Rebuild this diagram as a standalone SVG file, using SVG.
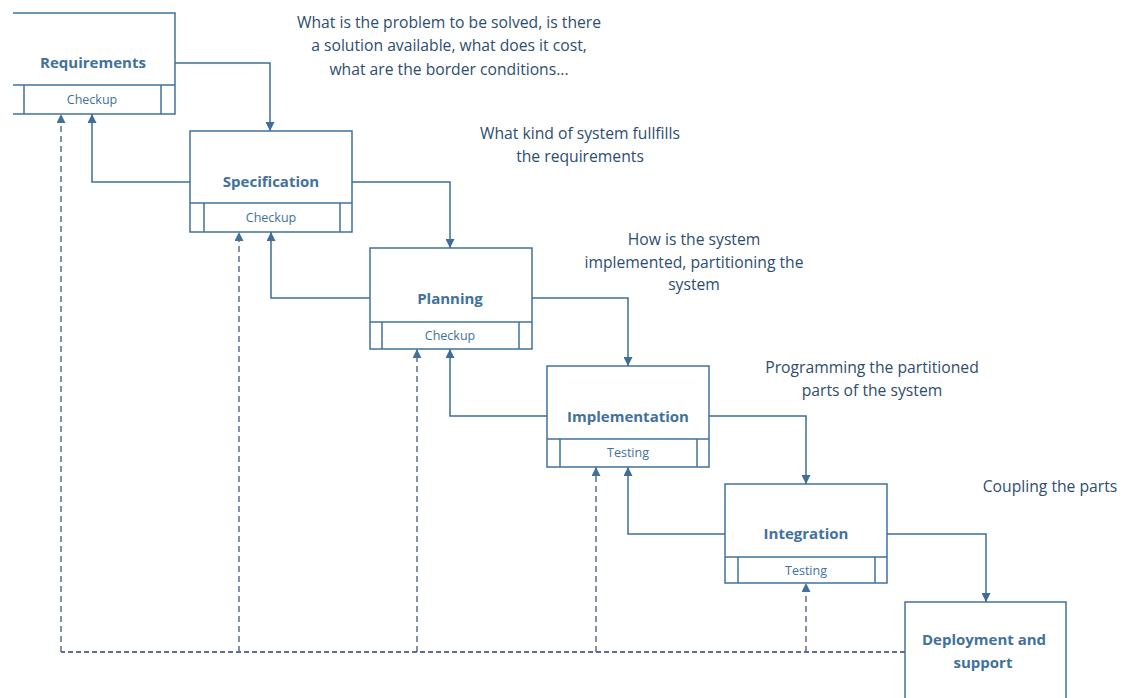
<svg xmlns="http://www.w3.org/2000/svg" width="1126" height="698" viewBox="0 0 1126 698">
  <style>
    .box { fill: #ffffff; stroke: #41719c; stroke-width: 1.5; }
    .ln { fill: none; stroke: #41719c; stroke-width: 1.5; }
    .flow { fill: none; stroke: #3f6d99; stroke-width: 1.5; }
    .back { fill: none; stroke: #5b6f8c; stroke-width: 1.5; stroke-dasharray: 6 4; }
    .base { fill: none; stroke: #5b6f8c; stroke-width: 2; stroke-dasharray: 5 3; }
    .title { font-family: "Open Sans", "Liberation Sans", sans-serif; font-weight: bold; font-size: 15px; fill: #41719c; text-anchor: middle; }
    .sub { font-family: "Open Sans", "Liberation Sans", sans-serif; font-size: 12.5px; fill: #41719c; text-anchor: middle; }
    .note { font-family: "Open Sans", "Liberation Sans", sans-serif; font-size: 15.7px; fill: #2d4d6e; text-anchor: middle; }
  </style>
  <defs>
    <marker id="arrow" viewBox="0 0 10 10" refX="10" refY="5" markerWidth="9" markerHeight="9" markerUnits="userSpaceOnUse" orient="auto">
      <path d="M0,0 L10,5 L0,10 z" fill="#3f6d99"/>
    </marker>
    <marker id="arrowDash" viewBox="0 0 10 10" refX="10" refY="5" markerWidth="9" markerHeight="9" markerUnits="userSpaceOnUse" orient="auto">
      <path d="M0,0 L10,5 L0,10 z" fill="#41719c"/>
    </marker>
  </defs>
  <rect width="1126" height="698" fill="#ffffff"/>

  <!-- phase boxes -->
  <g id="requirements">
    <path class="ln" d="M13,13 H175 V114 H13 M13,85 H175 M24,85 V114 M161,85 V114"/>
    <text class="title" x="93" y="68">Requirements</text>
    <text class="sub" x="92" y="104">Checkup</text>
  </g>
  <g id="specification">
    <rect class="box" x="190" y="131" width="162" height="101"/>
    <path class="ln" d="M190,203 H352 M204,203 V232 M340,203 V232"/>
    <text class="title" x="271" y="187">Specification</text>
    <text class="sub" x="271" y="222">Checkup</text>
  </g>
  <g id="planning">
    <rect class="box" x="370" y="248" width="162" height="101"/>
    <path class="ln" d="M370,322 H532 M382,322 V349 M519,322 V349"/>
    <text class="title" x="450" y="304">Planning</text>
    <text class="sub" x="450" y="340">Checkup</text>
  </g>
  <g id="implementation">
    <rect class="box" x="547" y="366" width="162" height="101"/>
    <path class="ln" d="M547,439 H709 M560,439 V467 M697,439 V467"/>
    <text class="title" x="628" y="422">Implementation</text>
    <text class="sub" x="628" y="457">Testing</text>
  </g>
  <g id="integration">
    <rect class="box" x="725" y="484" width="162" height="99"/>
    <path class="ln" d="M725,557 H887 M738,557 V583 M875,557 V583"/>
    <text class="title" x="806" y="539">Integration</text>
    <text class="sub" x="806" y="575">Testing</text>
  </g>
  <g id="deployment">
    <rect class="box" x="905" y="602" width="161" height="110"/>
    <text class="title" x="984" y="645">Deployment and</text>
    <text class="title" x="983" y="668">support</text>
  </g>

  <!-- annotations -->
  <g id="notes">
    <text class="note" x="449" y="28">What is the problem to be solved, is there</text>
    <text class="note" x="449" y="51">a solution available, what does it cost,</text>
    <text class="note" x="449" y="75">what are the border conditions...</text>
    <text class="note" x="580" y="139">What kind of system fullfills</text>
    <text class="note" x="580" y="162">the requirements</text>
    <text class="note" x="694" y="245">How is the system</text>
    <text class="note" x="694" y="268">implemented, partitioning the</text>
    <text class="note" x="694" y="290">system</text>
    <text class="note" x="872" y="373">Programming the partitioned</text>
    <text class="note" x="872" y="396">parts of the system</text>
    <text class="note" x="1050" y="492">Coupling the parts</text>
  </g>

  <!-- connectors -->
  <g id="connectors">
    <!-- forward flow -->
    <path class="flow" d="M175,63 H270 V131" marker-end="url(#arrow)"/>
    <path class="flow" d="M352,182 H450 V248" marker-end="url(#arrow)"/>
    <path class="flow" d="M532,298 H628 V366" marker-end="url(#arrow)"/>
    <path class="flow" d="M709,416 H806 V484" marker-end="url(#arrow)"/>
    <path class="flow" d="M887,534 H986 V602" marker-end="url(#arrow)"/>
    <!-- step back to previous phase -->
    <path class="flow" d="M190,182 H92 V114" marker-end="url(#arrow)"/>
    <path class="flow" d="M370,298 H271 V232" marker-end="url(#arrow)"/>
    <path class="flow" d="M547,416 H450 V349" marker-end="url(#arrow)"/>
    <path class="flow" d="M725,534 H628 V467" marker-end="url(#arrow)"/>
    <!-- feedback from deployment -->
    <path class="base" d="M905,652 H61"/>
    <path class="back" d="M61,652 V114" marker-end="url(#arrowDash)"/>
    <path class="back" d="M239,652 V232" marker-end="url(#arrowDash)"/>
    <path class="back" d="M417,652 V349" marker-end="url(#arrowDash)"/>
    <path class="back" d="M596,652 V467" marker-end="url(#arrowDash)"/>
    <path class="back" d="M806,652 V583" marker-end="url(#arrowDash)"/>
  </g>
</svg>
